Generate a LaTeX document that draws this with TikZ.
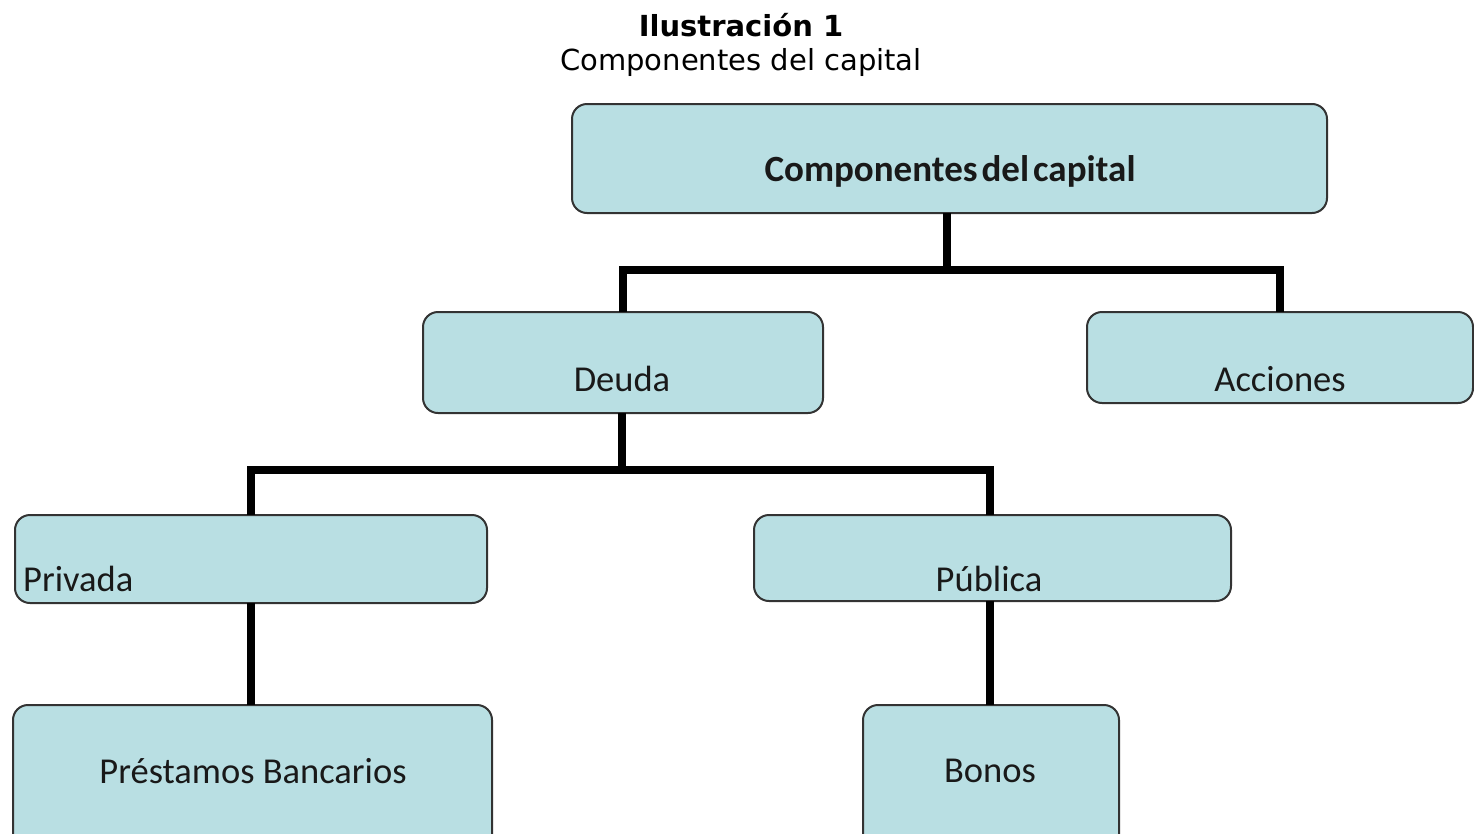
\documentclass[tikz,border=0pt]{standalone}
\usepackage{fontspec}
\setmainfont{Carlito}
\newfontfamily\titlefont{DejaVu Sans}
\definecolor{boxfill}{HTML}{B9DFE3}
\definecolor{boxline}{HTML}{333333}
\tikzset{
  box/.style={draw=boxline, fill=boxfill, line width=2pt, rounded corners=15pt, inner sep=0pt, outer sep=0pt},
  lbl/.style={inner sep=0pt, font=\fontsize{36.5}{42}\selectfont, text=black!90},
  conn/.style={line width=8pt, draw=black},
}
\begin{document}
\begin{tikzpicture}[x=1pt, y=-1pt]
\useasboundingbox (0,0) rectangle (1474,833);
\clip (0,0) rectangle (1474,833);
% title
\node[inner sep=0pt, font=\titlefont\bfseries\fontsize{29}{34}\selectfont] (t1) at (741,25) {Ilustración 1};
\node[inner sep=0pt, font=\titlefont\fontsize{29}{34}\selectfont] (t2) at (741,62) {Componentes del capital};
% boxes
\node[box, minimum width=755pt, minimum height=109pt] (top) at (949.5,158.5) {};
\node[box, minimum width=400pt, minimum height=101pt] (deuda) at (623,362.5) {};
\node[box, minimum width=386pt, minimum height=91pt] (acc) at (1280,357.5) {};
\node[box, minimum width=472pt, minimum height=88pt] (priv) at (251,559) {};
\node[box, minimum width=477pt, minimum height=86pt] (pub) at (992.5,558) {};
\node[box, minimum width=479pt, minimum height=150pt] (prest) at (252.5,780) {};
\node[box, minimum width=256pt, minimum height=150pt] (bonos) at (991,780) {};
% labels
\node[lbl, font=\bfseries\fontsize{37}{42}\selectfont] (ltop) at (950,171) {Componentes\hspace{4pt}del\hspace{4pt}capital};
\node[lbl] (ldeuda) at (622,379) {Deuda};
\node[lbl] (lacc) at (1280,379) {Acciones};
\node[lbl, anchor=west] (lpriv) at (23,579) {Privada};
\node[lbl] (lpub) at (989,579) {Pública};
\node[lbl] (lprest) at (253,771) {Préstamos Bancarios};
\node[lbl] (lbonos) at (990,771) {Bonos};
% connectors
\coordinate (j1) at (947,270);
\coordinate (j2) at (622,470);
\draw[conn] (top.south -| j1) -- (j1);
\draw[conn] (j1) -| (deuda.north);
\draw[conn] (j1) -| (acc.north);
\draw[conn] (deuda.south -| j2) -- (j2);
\draw[conn] (j2) -| (priv.north);
\draw[conn] (j2) -| (pub.north -| 990,0);
\draw[conn] (priv.south) -- (priv.south |- prest.north);
\draw[conn] (pub.south -| 990,0) -- (bonos.north -| 990,0);
\end{tikzpicture}
\end{document}
